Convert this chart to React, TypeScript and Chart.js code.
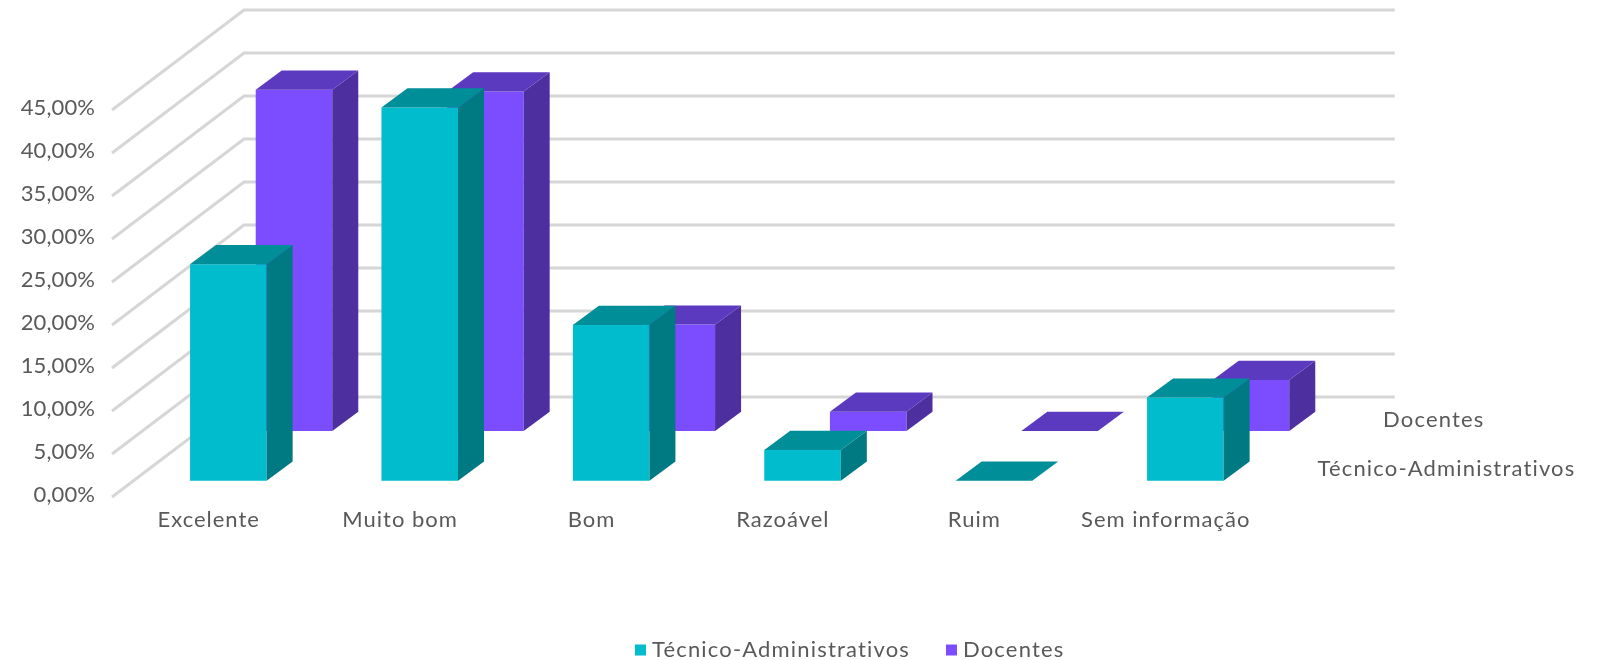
import React, { useEffect, useRef } from "react";
import { Chart, registerables } from "chart.js";

Chart.register(...registerables);

const categories = ["Excelente", "Muito bom", "Bom", "Razoável", "Ruim", "Sem informação"];
const tecnicoValues = [25.18, 43.4, 18.1, 3.57, 0, 9.66];
const docentesValues = [39.68, 39.48, 12.37, 2.25, 0, 5.93];
const seriesNames = ["Técnico-Administrativos", "Docentes"];

const FONT = "Lato";
const FONT_SIZE = 22;
const TEXT = "#595959";
const GRID = "#D6D6D6";
const FACES = {
  xT: { front: "#00BCCC", side: "#007A82", top: "#008E99" },
  xD: { front: "#7C4DFF", side: "#4D2F9F", top: "#5C3ABF" },
};
// perspective constants of the pseudo-3D box
const WALL_DX = 132;
const WALL_DY = -100;
const WALL_RIGHT_EXTRA = 2.3;
const BAR_DX = 26;
const BAR_DY = -19.2;
const SHIFTS: Record<string, [number, number]> = {
  xT: [20.65, 0],
  yT: [0, -16.3],
  xD: [86.3, 0],
  yD: [0, -66],
};
const SPACING_AXIS = "1px";
const SPACING_TICKS = "0.1px";
const SPACING_SERIES = "1.17px";

function withSpacing(target: any, method: string, ctx: any, spacing: string) {
  const proto = Object.getPrototypeOf(target);
  target[method] = function (...args: any[]) {
    ctx.save();
    ctx.letterSpacing = spacing;
    proto[method].apply(this, args);
    ctx.restore();
  };
}

const threeD = {
  id: "threeD",
  beforeLayout(chart: any) {
    chart.ctx.letterSpacing = SPACING_SERIES;
  },
  afterLayout(chart: any) {
    chart.ctx.letterSpacing = SPACING_AXIS;
    for (const id of Object.keys(SHIFTS)) {
      const s = chart.scales[id];
      const [dx, dy] = SHIFTS[id];
      s.left += dx;
      s.right += dx;
      s.top += dy;
      s.bottom += dy;
      s.configure();
    }
    const lg = chart.legend;
    lg.left += 222;
    lg.right += 222;
    lg.top += 11;
    lg.bottom += 11;
    withSpacing(lg, "draw", chart.ctx, SPACING_SERIES);
    withSpacing(chart.scales.y, "drawLabels", chart.ctx, SPACING_TICKS);
  },
  beforeDatasetsDraw(chart: any) {
    const { ctx, scales } = chart;
    const y = scales.y;
    const x = scales.x;
    ctx.save();
    ctx.strokeStyle = GRID;
    ctx.lineWidth = 3;
    ctx.lineCap = "butt";
    for (const t of y.ticks) {
      const py = y.getPixelForValue(t.value);
      ctx.beginPath();
      ctx.moveTo(x.left, py);
      ctx.lineTo(x.left + WALL_DX, py + WALL_DY);
      ctx.lineTo(x.right + WALL_DX + WALL_RIGHT_EXTRA, py + WALL_DY);
      ctx.stroke();
    }
    ctx.restore();
  },
  afterDatasetDraw(chart: any, args: any) {
    const { ctx } = chart;
    const meta = args.meta;
    const faces = (FACES as any)[meta.xAxisID];
    ctx.save();
    meta.data.forEach((el: any) => {
      const { x, y, base, width } = el.getProps(["x", "y", "base", "width"], true);
      const l = x - width / 2;
      const r = x + width / 2;
      ctx.fillStyle = faces.side;
      ctx.beginPath();
      ctx.moveTo(r, base);
      ctx.lineTo(r + BAR_DX, base + BAR_DY);
      ctx.lineTo(r + BAR_DX, y + BAR_DY);
      ctx.lineTo(r, y);
      ctx.closePath();
      ctx.fill();
      ctx.fillStyle = faces.top;
      ctx.beginPath();
      ctx.moveTo(l, y);
      ctx.lineTo(l + BAR_DX, y + BAR_DY);
      ctx.lineTo(r + BAR_DX, y + BAR_DY);
      ctx.lineTo(r, y);
      ctx.closePath();
      ctx.fill();
    });
    ctx.restore();
  },
  afterDraw(chart: any) {
    const { ctx, scales, data } = chart;
    ctx.save();
    ctx.letterSpacing = SPACING_SERIES;
    ctx.font = `${FONT_SIZE}px ${FONT}`;
    ctx.fillStyle = TEXT;
    ctx.textAlign = "left";
    ctx.textBaseline = "middle";
    data.datasets.forEach((d: any) => {
      const xs = scales[d.xAxisID];
      const ys = scales[d.yAxisID];
      ctx.fillText(d.label, xs.right + 36.4, ys.getPixelForValue(0) - 11.4);
    });
    ctx.restore();
  },
};

const hiddenX = {
  type: "category",
  display: false,
  offset: true,
};
const hiddenY = {
  type: "linear",
  display: false,
  min: 0,
  max: 45,
};

export default function App() {
  const ref = useRef<HTMLCanvasElement>(null);
  useEffect(() => {
    const chart = new Chart(ref.current as HTMLCanvasElement, {
      type: "bar",
      plugins: [threeD],
      data: {
        labels: categories,
        datasets: [
          {
            label: seriesNames[0],
            data: tecnicoValues,
            backgroundColor: FACES.xT.front,
            xAxisID: "xT",
            yAxisID: "yT",
            clip: false,
            grouped: false,
            barPercentage: 0.4,
            categoryPercentage: 1,
          },
          {
            label: seriesNames[1],
            data: docentesValues,
            backgroundColor: FACES.xD.front,
            xAxisID: "xD",
            yAxisID: "yD",
            clip: false,
            grouped: false,
            barPercentage: 0.4,
            categoryPercentage: 1,
          },
        ],
      } as any,
      options: {
        responsive: false,
        maintainAspectRatio: false,
        animation: false,
        events: [],
        layout: { padding: { top: 110, left: 0, right: 1604 - 1260.4, bottom: 0 } },
        plugins: {
          tooltip: { enabled: false },
          legend: {
            position: "bottom",
            labels: {
              usePointStyle: true,
              pointStyle: "rect",
              boxWidth: 1,
              boxHeight: 11,
              padding: 41,
              color: TEXT,
              font: { family: FONT, size: FONT_SIZE },
            },
          },
        },
        scales: {
          x: {
            type: "category",
            offset: true,
            grid: { display: false, drawTicks: false },
            border: { display: false },
            afterFit(s: any) {
              s.height = 163 - s.chart.legend.height;
            },
            ticks: {
              color: TEXT,
              font: { family: FONT, size: FONT_SIZE },
              padding: 10,
              labelOffset: 1,
              autoSkip: false,
              maxRotation: 0,
            },
          },
          y: {
            type: "linear",
            min: 0,
            max: 45,
            grid: { display: false, drawTicks: false },
            border: { display: false },
            afterFit(s: any) {
              s.width = 112;
            },
            ticks: {
              stepSize: 5,
              color: TEXT,
              font: { family: FONT, size: FONT_SIZE },
              padding: 17,
              labelOffset: -2,
              callback: (v: any) => Number(v).toFixed(2).replace(".", ",") + "%",
            },
          },
          xT: hiddenX,
          xD: hiddenX,
          yT: hiddenY,
          yD: hiddenY,
        },
      } as any,
    });
    return () => chart.destroy();
  }, []);
  return (
    <canvas
      ref={ref}
      width={1604}
      height={660}
      style={{ position: "absolute", left: 0, top: 0, display: "block" }}
    />
  );
}
